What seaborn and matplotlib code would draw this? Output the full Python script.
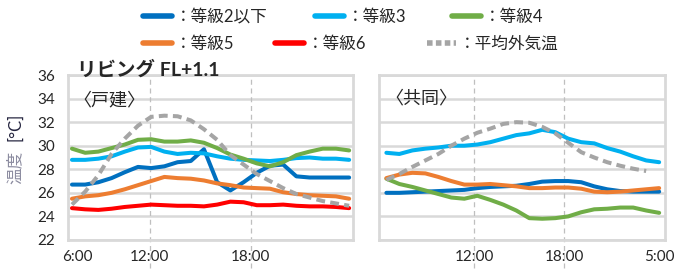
import numpy as np
import pandas as pd
import matplotlib
matplotlib.use("Agg")
import matplotlib.pyplot as plt
from matplotlib.lines import Line2D
import seaborn as sns

# 系列名と色
series = ["：等級2以下", "：等級3", "：等級4", "：等級5", "：等級6", "：平均外気温"]
colors = ["#0070c0", "#00b0f0", "#70ad47", "#ed7d31", "#ff0000", "#a5a5a5"]

# 戸建 (22点)
k_lv2 = [26.7, 26.7, 26.9, 27.25, 27.75, 28.2, 28.1, 28.25, 28.6, 28.7, 29.7, 26.9,
         26.2, 26.9, 27.7, 28.3, 28.4, 27.4, 27.3, 27.3, 27.3, 27.3]
k_lv3 = [28.8, 28.8, 28.9, 29.1, 29.5, 29.85, 29.9, 29.5, 29.3, 29.4, 29.35, 29.1,
         28.9, 28.8, 28.75, 28.7, 28.8, 28.95, 29.0, 28.9, 28.9, 28.8]
k_lv4 = [29.75, 29.4, 29.5, 29.8, 30.1, 30.5, 30.55, 30.35, 30.35, 30.45, 30.25, 29.8,
         29.25, 28.9, 28.5, 28.25, 28.6, 29.2, 29.5, 29.75, 29.75, 29.6]
k_lv5 = [25.5, 25.7, 25.8, 26.0, 26.3, 26.65, 27.0, 27.35, 27.25, 27.2, 27.05, 26.8,
         26.65, 26.45, 26.4, 26.35, 26.05, 25.9, 25.8, 25.75, 25.7, 25.5]
k_lv6 = [24.7, 24.6, 24.55, 24.65, 24.8, 24.9, 25.0, 24.95, 24.9, 24.9, 24.85, 25.0,
         25.25, 25.2, 24.95, 24.95, 25.0, 24.9, 24.85, 24.85, 24.8, 24.7]
k_out = [25.0, 26.1, 27.5, 29.3, 30.6, 31.7, 32.45, 32.55, 32.5, 32.15, 31.4, 30.5,
         29.2, 28.4, 27.6, 27.0, 26.4, 25.9, 25.6, 25.3, 25.1, 24.9]

# 共同 (22点)
s_lv2 = [26.0, 26.0, 26.05, 26.1, 26.15, 26.2, 26.25, 26.4, 26.5, 26.55, 26.6, 26.75,
         26.95, 27.0, 27.0, 26.9, 26.55, 26.3, 26.15, 26.1, 26.1, 26.1]
s_lv3 = [29.4, 29.3, 29.6, 29.75, 29.85, 30.0, 30.0, 30.1, 30.3, 30.6, 30.9, 31.05,
         31.35, 31.15, 30.6, 30.3, 30.2, 29.8, 29.5, 29.1, 28.75, 28.6]
s_lv4 = [27.2, 26.75, 26.5, 26.2, 25.9, 25.6, 25.5, 25.75, 25.4, 25.0, 24.5, 23.85,
         23.8, 23.85, 24.0, 24.35, 24.6, 24.65, 24.75, 24.75, 24.5, 24.3]
s_lv5 = [27.25, 27.55, 27.7, 27.65, 27.35, 27.0, 26.7, 26.7, 26.75, 26.65, 26.55, 26.4,
         26.4, 26.45, 26.45, 26.35, 26.1, 26.05, 26.1, 26.2, 26.3, 26.4]
s_out = [27.1, 27.6, 28.2, 28.75, 29.3, 30.0, 30.6, 31.1, 31.45, 31.85, 32.0, 31.95,
         31.6, 31.05, 30.25, 29.45, 29.0, 28.6, 28.3, 28.05, 27.85, np.nan]

kodate = dict(zip(series, [k_lv2, k_lv3, k_lv4, k_lv5, k_lv6, k_out]))
kyodo = dict(zip(series, [s_lv2, s_lv3, s_lv4, s_lv5, None, s_out]))

left_ticks = [0.4, 5.9, 13.55]
left_labels = ["6:00", "12:00", "18:00"]
right_ticks = [6.76, 13.7, 21]
right_labels = ["12:00", "18:00", "5:00"]


def to_long(d):
    rows = []
    for name, vals in d.items():
        if vals is None:
            continue
        for i, v in enumerate(vals):
            if not np.isnan(v):
                rows.append({"t": i, "temp": v, "系列": name})
    return pd.DataFrame(rows)


sns.set_style("white")
plt.rcParams["font.family"] = ["Lato", "Noto Sans CJK JP", "DejaVu Sans"]

palette = dict(zip(series, colors))
dashes = {s: "" for s in series}
dashes["：平均外気温"] = (2.2, 1.3)

fig = plt.figure(figsize=(6.87, 2.79), dpi=100)
ax1 = fig.add_axes([0.099, 0.14, 0.415, 0.591])
ax2 = fig.add_axes([0.552, 0.14, 0.416, 0.591])

for ax, d, ticks, labels, xlim in [
    (ax1, kodate, left_ticks, left_labels, (-0.3, 21.3)),
    (ax2, kyodo, right_ticks, right_labels, (-0.55, 21.45)),
]:
    df = to_long(d)
    for y in range(22, 37, 2):
        ax.axhline(y, color="#d9d9d9", lw=1.8, zorder=0)
    for xv, lab in zip(ticks, labels):
        if lab in ("12:00", "18:00"):
            ax.plot([xv, xv], [-0.17, 1.0], transform=ax.get_xaxis_transform(),
                    color="#bfbfbf", lw=0.9, ls=(0, (4, 3)), clip_on=False, zorder=1)
    sns.lineplot(data=df, x="t", y="temp", hue="系列", style="系列",
                 palette=palette, dashes=dashes, lw=2.9, legend=False, ax=ax, zorder=3)
    ax.set_xlim(*xlim)
    ax.set_ylim(22, 36)
    ax.set_xticks(ticks)
    ax.set_xticklabels(labels, fontsize=11, color="#262626")
    ax.set_yticks(range(22, 37, 2))
    ax.set_xlabel("")
    ax.set_ylabel("")
    ax.tick_params(length=0, pad=7)
    for sp in ax.spines.values():
        sp.set_color("#d9d9d9")
        sp.set_linewidth(2)

ax1.tick_params(axis="y", labelsize=11, pad=9, labelcolor="#262626")
ax2.tick_params(axis="y", labelleft=False)

# 縦軸ラベル: 「温度」はグレー、「[°C]」は濃色
fig.text(15 / 687, 1 - 167 / 279, "温度", rotation=90, fontsize=12,
         color="#8c8ca0", ha="center", va="center")
fig.text(15 / 687, 1 - 127 / 279, "[°C]", rotation=90, fontsize=12,
         color="#262640", ha="center", va="center")

ax1.text(0.03, 1.035, "リビング FL+1.1", transform=ax1.transAxes, fontsize=14,
         fontweight="bold", va="center", ha="left")
ax1.text(0.02, 0.85, "〈戸建〉", transform=ax1.transAxes, fontsize=13,
         va="center", ha="left")
ax2.text(0.02, 0.86, "〈共同〉", transform=ax2.transAxes, fontsize=13,
         va="center", ha="left")

# 凡例: 項目ごとに配置
handles = []
for s, c in zip(series, colors):
    if s == "：平均外気温":
        handles.append(Line2D([], [], color=c, lw=4, ls=(0, (1, 0.6))))
    else:
        handles.append(Line2D([], [], color=c, lw=4))
legend_pos = [(143, 17), (315, 17), (452, 17), (143, 44), (275, 44), (427, 44)]
for h, s, (px, py) in zip(handles, series, legend_pos):
    fig.legend([h], [s], loc="center left", bbox_to_anchor=(px / 687, 1 - py / 279),
               frameon=False, fontsize=12, handlelength=1.75, handletextpad=0.15,
               borderpad=0, borderaxespad=0)

fig.savefig("out.png", dpi=100)
